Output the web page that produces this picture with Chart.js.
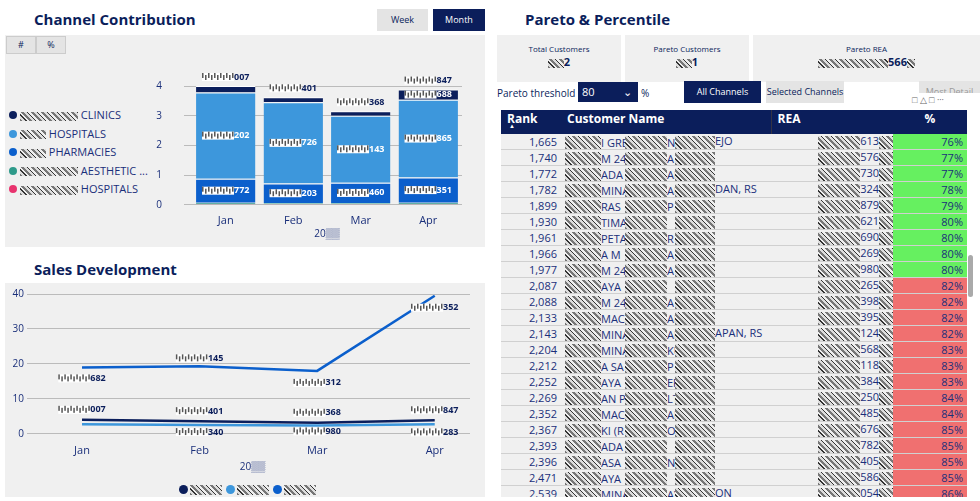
<!DOCTYPE html>
<html><head><meta charset="utf-8">
<script src="https://cdn.jsdelivr.net/npm/chart.js@4.4.1/dist/chart.umd.min.js"></script>
<style>
body{margin:0;width:980px;height:501px;background:#fff;font-family:"Segoe UI","Open Sans",sans-serif;color:#0b1e5b;overflow:hidden;position:relative}
.abs{position:absolute}
.title{font-weight:bold;font-size:15px;color:#0b1e5b}
.panel{background:#f0f0f0}
.btn{position:absolute;font-size:9px;text-align:center;line-height:22px}
.noise{display:inline-block;background:repeating-linear-gradient(45deg,#777 0 2px,#ddd 2px 4px,#333 4px 5px,#eee 5px 7px);vertical-align:middle}
table{border-collapse:collapse;font-size:11px;width:100%;table-layout:fixed}
td{height:15px;line-height:13px;padding:0 4px;border-bottom:1px solid #d0d0d0;color:#1a2f7a;white-space:nowrap;overflow:hidden}
td .noise{height:13px !important}
th{background:#0b1e5b;color:#fff;text-align:left;font-size:12px;height:22px;line-height:14px;padding:0 6px;position:relative;vertical-align:top;padding-top:2px}
.leg div{height:18.5px;font-size:11px;color:#1a2f7a;white-space:nowrap}
.leg span.d{display:inline-block;width:8px;height:8px;border-radius:50%;margin-right:3px}
.leg2 span.d{display:inline-block;width:9px;height:9px;border-radius:50%;margin:0 2px 0 4px;vertical-align:middle}
</style></head><body>

<!-- left top -->
<div class="abs title" style="left:34px;top:9px">Channel Contribution</div>
<div class="btn" style="left:377px;top:9px;width:51px;background:#e4e4e4">Week</div>
<div class="btn" style="left:433px;top:9px;width:52px;background:#0b1e5b;color:#fff">Month</div>
<div class="abs panel" style="left:5px;top:35px;width:480px;height:212px"></div>
<div class="btn" style="left:6px;top:36px;width:28px;height:16px;line-height:16px;background:#e4e4e4;border:1px solid #ccc">#</div>
<div class="btn" style="left:36px;top:36px;width:28px;height:16px;line-height:16px;background:#e4e4e4;border:1px solid #ccc">%</div>
<div class="abs leg" style="left:9px;top:107px" id="leg1"></div>
<div class="abs" style="left:150px;top:58px;width:312px;height:182px"><canvas id="c1"></canvas></div>

<!-- left bottom -->
<div class="abs title" style="left:34px;top:259px">Sales Development</div>
<div class="abs panel" style="left:5px;top:283px;width:480px;height:214px"></div>
<div class="abs" style="left:8px;top:285px;width:476px;height:188px"><canvas id="c2"></canvas></div>
<div class="abs leg2" style="left:0;width:490px;top:477px;text-align:center" id="leg2"></div>

<!-- right -->
<div class="abs title" style="left:525px;top:9px">Pareto &amp; Percentile</div>
<div class="abs panel" style="left:497px;top:35px;width:124px;height:39px;font-size:8px;text-align:center;padding-top:8px">Total Customers<br><span style="font-size:11px;font-weight:bold"><span class="noise" style="width:16px;height:9px"></span>2</span></div>
<div class="abs panel" style="left:625px;top:35px;width:124px;height:39px;font-size:8px;text-align:center;padding-top:8px">Pareto Customers<br><span style="font-size:11px;font-weight:bold"><span class="noise" style="width:16px;height:9px"></span>1</span></div>
<div class="abs panel" style="left:753px;top:35px;width:227px;height:39px;font-size:8px;text-align:center;padding-top:8px">Pareto REA<br><span style="font-size:11px;font-weight:bold"><span class="noise" style="width:70px;height:9px"></span>566<span class="noise" style="width:8px;height:9px"></span></span></div>
<div class="abs" style="left:497px;top:86px;font-size:10px">Pareto threshold</div>
<div class="abs" style="left:578px;top:82px;width:56px;height:20px;background:#0b1e5b;color:#fff;font-size:11px;line-height:20px;padding-left:4px">80 <span style="position:absolute;right:6px">&#8964;</span></div>
<div class="abs" style="left:641px;top:86px;font-size:10px">%</div>
<div class="btn" style="left:684px;top:81px;width:77px;background:#0b1e5b;color:#fff">All Channels</div>
<div class="btn" style="left:766px;top:81px;width:78px;background:#e4e4e4">Selected Channels</div>
<div class="btn" style="left:919px;top:81px;width:61px;background:#e4e4e4;color:#999">Most Detail</div>
<div class="abs" style="left:912px;top:93px;width:68px;height:14px;background:#fff;font-size:9px;color:#666">&#9633; &#9651; &#9633; &middot;&middot;&middot;</div>
<div class="abs" style="left:501px;top:110px;width:466px;height:387px;overflow:hidden;background:#f0f0f0">
<table id="tbl"><colgroup><col style="width:60px"><col style="width:210px"><col style="width:122px"><col></colgroup>
<thead><tr><th>Rank<span style="position:absolute;left:8px;top:13px;font-size:6px;line-height:6px">&#9650;</span></th><th>Customer Name</th><th style="border-left:1px solid #334">REA</th><th style="text-align:center">%</th></tr></thead><tbody></tbody></table>
</div>
<div class="abs" style="left:968px;top:255px;width:5px;height:42px;background:#aaa;border-radius:3px"></div>

<script>
// ---- Channel Contribution (stacked, per month)
const months = ['Jan', 'Feb', 'Mar', 'Apr'];
const channelNames = ['CLINICS', 'HOSPITALS', 'PHARMACIES', 'AESTHETIC ...', 'HOSPITALS'];
const channelColors = ['#0b1e5b', '#3d97dc', '#0b5fcc', '#2e9a8a', '#e8336e'];
const hospitalsB = [0.03, 0.03, 0.03, 0.03];
const aesthetic = [0.04, 0.03, 0.03, 0.04];
const pharmacies = [0.81, 0.66, 0.68, 0.85];
const hospitalsA = [2.90, 2.73, 2.26, 2.62];
const clinics = [0.22, 0.17, 0.15, 0.34];
const totalSuffix = ['007', '401', '368', '847'];
const hospSuffix = ['202', '726', '143', '865'];
const pharmSuffix = ['772', '203', '460', '351'];
const clinicSuffix = ['', '', '', '688'];
const yTicks1 = ['0', '1', '2', '3', '4'];

// ---- Sales Development
const salesA = [4.0, 3.62, 3.15, 3.88];
const salesB = [2.7, 2.5, 2.4, 2.7];
const salesC = [19.0, 19.3, 18.0, 39.5];
const salesASuffix = ['007', '401', '368', '847'];
const salesBSuffix = ['', '340', '980', '283'];
const salesCSuffix = ['682', '145', '312', '352'];
const salesColors = ['#0b1e5b', '#3d97dc', '#0b5fcc'];
const yTicks2 = ['0', '10', '20', '30', '40'];

// ---- Pareto table
const ranks = [1665,1740,1772,1782,1899,1930,1961,1966,1977,2087,2088,2133,2143,2204,2212,2252,2269,2352,2367,2393,2396,2471,2539];
const names = ['I GREY  NIK  EJO','M 24  A','ADA  AK','MINA  AL  DAN, RS','RAS  P','TIMA','PETA  R','A M  A','M 24  A','AYA','M 24  A','MACA  AR','MINA  AM  APAN, RS','MINA  KU','A SA  P','AYA  ER','AN P  LTI','MACA  AR','KI (R  O','ADA','ASA  NG','AYA','MINA  AY  ON'];
const reaSuffix = ['613','576','730','324','879','621','690','269','980','265','398','395','124','568','118','384','250','485','676','782','405','586','054'];
const pct = [76,77,77,78,79,80,80,80,80,82,82,82,82,83,83,83,84,84,85,85,85,85,86];
const threshold = 80;

Chart.defaults.font.family = '"Segoe UI","Open Sans",sans-serif';
Chart.defaults.color = '#1a2f7a';

document.getElementById('leg1').innerHTML = channelNames.map((n, i) =>
  '<div><span class="d" style="background:' + channelColors[i] + '"></span><span class="noise" style="width:' + (i === 1 || i === 2 ? 26 : 58) + 'px;height:9px"></span> ' + n + '</div>').join('');
document.getElementById('leg2').innerHTML = salesColors.map(c =>
  '<span class="d" style="background:' + c + '"></span><span class="noise" style="width:32px;height:10px"></span>').join('');

// small label: hatched block + visible suffix
function drawLabel(ctx, x, y, suffix, color) {
  const w = 32, h = 8;
  ctx.save();
  ctx.font = 'bold 9px "Segoe UI","Open Sans",sans-serif';
  const tw = ctx.measureText(suffix).width;
  const x0 = x - (w + tw) / 2;
  ctx.fillStyle = '#fff';
  ctx.fillRect(x0, y - h / 2, w, h);
  ctx.fillStyle = '#555';
  for (let k = 0; k < w; k += 3) ctx.fillRect(x0 + k, y - h / 2 + (k % 2) * 2, 1.5, h - 3);
  ctx.fillStyle = color;
  ctx.textBaseline = 'middle';
  ctx.fillText(suffix, x0 + w, y);
  ctx.restore();
}

const barLabels = {
  id: 'barLabels',
  afterDatasetsDraw(chart) {
    const ctx = chart.ctx;
    const meta = i => chart.getDatasetMeta(i).data;
    months.forEach((m, j) => {
      const top = meta(4)[j];
      drawLabel(ctx, top.x, top.y - 9, totalSuffix[j], '#0b1e5b');
      const hb = meta(3)[j];
      drawLabel(ctx, hb.x, (hb.y + hb.base) / 2, hospSuffix[j], '#fff');
      const ph = meta(2)[j];
      drawLabel(ctx, ph.x, (ph.y + ph.base) / 2, pharmSuffix[j], '#fff');
      if (clinicSuffix[j]) { const c = meta(4)[j]; drawLabel(ctx, c.x, (c.y + c.base) / 2, clinicSuffix[j], '#fff'); }
    });
  }
};

new Chart(document.getElementById('c1'), {
  type: 'bar',
  data: {
    labels: months,
    datasets: [
      { label: channelNames[4], data: hospitalsB, backgroundColor: channelColors[4] },
      { label: channelNames[3], data: aesthetic, backgroundColor: channelColors[3] },
      { label: channelNames[2], data: pharmacies, backgroundColor: channelColors[2] },
      { label: channelNames[1], data: hospitalsA, backgroundColor: channelColors[1] },
      { label: channelNames[0], data: clinics, backgroundColor: channelColors[0] }
    ]
  },
  plugins: [barLabels],
  options: {
    responsive: true, maintainAspectRatio: false, animation: false,
    layout: { padding: { top: 27 } },
    datasets: { bar: { categoryPercentage: 0.88, barPercentage: 1, borderColor: '#fff', borderWidth: { top: 1 } } },
    plugins: { legend: { display: false }, tooltip: { enabled: false } },
    scales: {
      x: { stacked: true, grid: { display: false }, border: { display: false }, ticks: { font: { size: 11 }, padding: 1 },
           title: { display: true, text: '20\u2592\u2592', font: { size: 10 }, padding: 0 } },
      y: { stacked: true, min: 0, max: 4, border: { display: false },
           afterFit: s => { s.width = 42; },
           grid: { color: '#bbb', borderDash: [2, 3] },
           ticks: { stepSize: 1, font: { size: 10 }, padding: 22, callback: (v, i) => yTicks1[i] } }
    }
  }
});

const lineLabels = {
  id: 'lineLabels',
  afterDatasetsDraw(chart) {
    const ctx = chart.ctx;
    const put = (ds, suf, dy) => chart.getDatasetMeta(ds).data.forEach((p, j) => {
      if (suf[j]) drawLabel(ctx, p.x, p.y + dy[j], suf[j], '#0b1e5b');
    });
    put(0, salesASuffix, [-10, -10, -10, -10]);
    put(1, salesBSuffix, [8, 7, 6, 8]);
    put(2, salesCSuffix, [11, -8, 12, 12]);
  }
};

const toXY = arr => arr.map((v, i) => ({ x: i, y: v }));

new Chart(document.getElementById('c2'), {
  type: 'line',
  data: {
    datasets: [salesA, salesB, salesC].map((s, i) => ({
      label: 'series ' + (i + 1), data: toXY(s), borderColor: salesColors[i], backgroundColor: salesColors[i]
    }))
  },
  plugins: [lineLabels],
  options: {
    responsive: true, maintainAspectRatio: false, animation: false,
    elements: { line: { borderWidth: 2.5, tension: 0 }, point: { radius: 0 } },
    layout: { padding: { right: 14, top: 4, bottom: 0 } },
    plugins: { tooltip: { enabled: false }, legend: { display: false } },
    scales: {
      x: { type: 'linear', min: -0.4, max: 3.3, grid: { display: false }, border: { display: false },
           afterBuildTicks: s => { s.ticks = months.map((m, i) => ({ value: i })); },
           ticks: { font: { size: 11 }, padding: 2, callback: v => months[v] },
           title: { display: true, text: '20\u2592\u2592', font: { size: 10 }, padding: { top: 2, bottom: 0 } } },
      y: { min: 0, max: 40, border: { display: false }, grid: { color: '#bbb', borderDash: [2, 3] },
           afterFit: s => { s.width = 27; },
           ticks: { stepSize: 10, font: { size: 10 }, callback: (v, i) => yTicks2[i] } }
    }
  }
});

document.querySelector('#tbl tbody').innerHTML = ranks.map((r, i) => {
  const parts = names[i].split('  ');
  return '<tr><td style="text-align:right">' + r.toLocaleString('en-US') + '</td>' +
  '<td><span class="noise" style="width:36px"></span><span style="display:inline-block;width:24px;overflow:hidden;vertical-align:middle">' + parts[0] + '</span><span class="noise" style="width:42px"></span><span style="display:inline-block;width:8px;overflow:hidden;vertical-align:middle">' + (parts[1] || '') + '</span><span class="noise" style="width:40px"></span>' + (parts[2] || '') + '</td>' +
  '<td style="text-align:right;padding-right:0"><span class="noise" style="width:42px"></span>' + reaSuffix[i] + '<span class="noise" style="width:14px"></span></td>' +
  '<td style="text-align:right;background:' + (pct[i] <= threshold ? '#66f060' : '#f07070') + '">' + pct[i] + '%</td></tr>';
}).join('');
</script>
</body></html>
